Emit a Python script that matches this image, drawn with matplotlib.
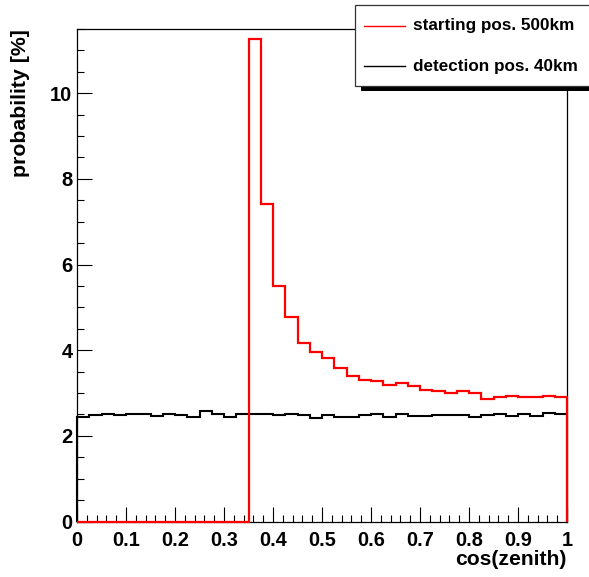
import matplotlib.pyplot as plt
from matplotlib.patches import Rectangle
from matplotlib.lines import Line2D
import numpy as np

# 40 bins of cos(zenith), width 0.025
edges = np.linspace(0, 1, 41)

start_500km = [0, 0, 0, 0, 0, 0, 0, 0, 0, 0,
               0, 0, 0, 0, 11.26, 7.41, 5.49, 4.77, 4.17, 3.95,
               3.81, 3.58, 3.40, 3.30, 3.27, 3.18, 3.23, 3.17, 3.08, 3.05,
               2.99, 3.05, 2.99, 2.87, 2.91, 2.93, 2.91, 2.91, 2.94, 2.91]

detect_40km = [2.45, 2.49, 2.52, 2.48, 2.52, 2.50, 2.47, 2.51, 2.48, 2.45,
               2.57, 2.50, 2.43, 2.52, 2.50, 2.50, 2.49, 2.50, 2.49, 2.42,
               2.48, 2.45, 2.45, 2.48, 2.51, 2.44, 2.50, 2.47, 2.47, 2.49,
               2.49, 2.48, 2.43, 2.48, 2.50, 2.46, 2.50, 2.47, 2.54, 2.51]

legend_labels = ["starting pos. 500km", "detection pos. 40km"]

plt.rcParams['font.family'] = ['Liberation Sans', 'DejaVu Sans']
plt.rcParams['font.weight'] = 'bold'

W, H = 589, 577
fig = plt.figure(figsize=(W / 100, H / 100), dpi=100)
ax = fig.add_axes([77 / W, 1 - 521.5 / H, 490 / W, 492.5 / H])

ax.stairs(detect_40km, edges, baseline=0, color='black', lw=1.5, clip_on=False, zorder=3)
ax.stairs(start_500km, edges, baseline=0, color='red', lw=1.6, clip_on=False, zorder=4)

ax.set_xlim(0, 1)
ax.set_ylim(0, 11.5)
ax.set_xticks(np.arange(0, 1.01, 0.1))
ax.set_xticklabels(['0', '0.1', '0.2', '0.3', '0.4', '0.5', '0.6', '0.7', '0.8', '0.9', '1'])
ax.set_xticks(np.arange(0, 1.001, 0.02), minor=True)
ax.set_yticks([0, 2, 4, 6, 8, 10])
ax.set_yticks(np.arange(0, 11.51, 0.5), minor=True)

ax.tick_params(which='both', direction='in', top=False, right=False, width=0.8)
ax.tick_params(which='major', length=10.5)
ax.tick_params(which='minor', length=5.3)
ax.tick_params(axis='x', which='major', labelsize=14.3, pad=7)
ax.tick_params(axis='y', which='major', labelsize=14.5, pad=3.3)
for sp in ax.spines.values():
    sp.set_linewidth(0.9)

ax.set_ylabel('probability [%]', fontsize=15.3, fontweight='bold', loc='top')
ax.yaxis.set_label_coords(-0.096, 1.0)
ax.set_xlabel('cos(zenith)', fontsize=15.2, fontweight='bold', loc='right')
ax.xaxis.set_label_coords(1.0, -0.058)

# legend box with shadow, in ROOT style
fig.patches.append(Rectangle((361 / W, 1 - 91 / H), 240 / W, 6 / H, transform=fig.transFigure,
                             facecolor='black', edgecolor='none', zorder=5))
fig.patches.append(Rectangle((355 / W, 1 - 86 / H), 240 / W, 81 / H, transform=fig.transFigure,
                             facecolor='white', edgecolor='#333333', lw=0.9, zorder=6))
for yy, col, lab in [(25.7, 'red', legend_labels[0]), (66, 'black', legend_labels[1])]:
    fig.lines.append(Line2D([364 / W, 405 / W], [1 - yy / H, 1 - yy / H], transform=fig.transFigure,
                            color=col, lw=1.0, zorder=7))
    fig.text(413 / W, 1 - yy / H, lab, fontsize=12.3, fontweight='bold', va='center', ha='left', zorder=7)

fig.savefig('out.png', dpi=100)
